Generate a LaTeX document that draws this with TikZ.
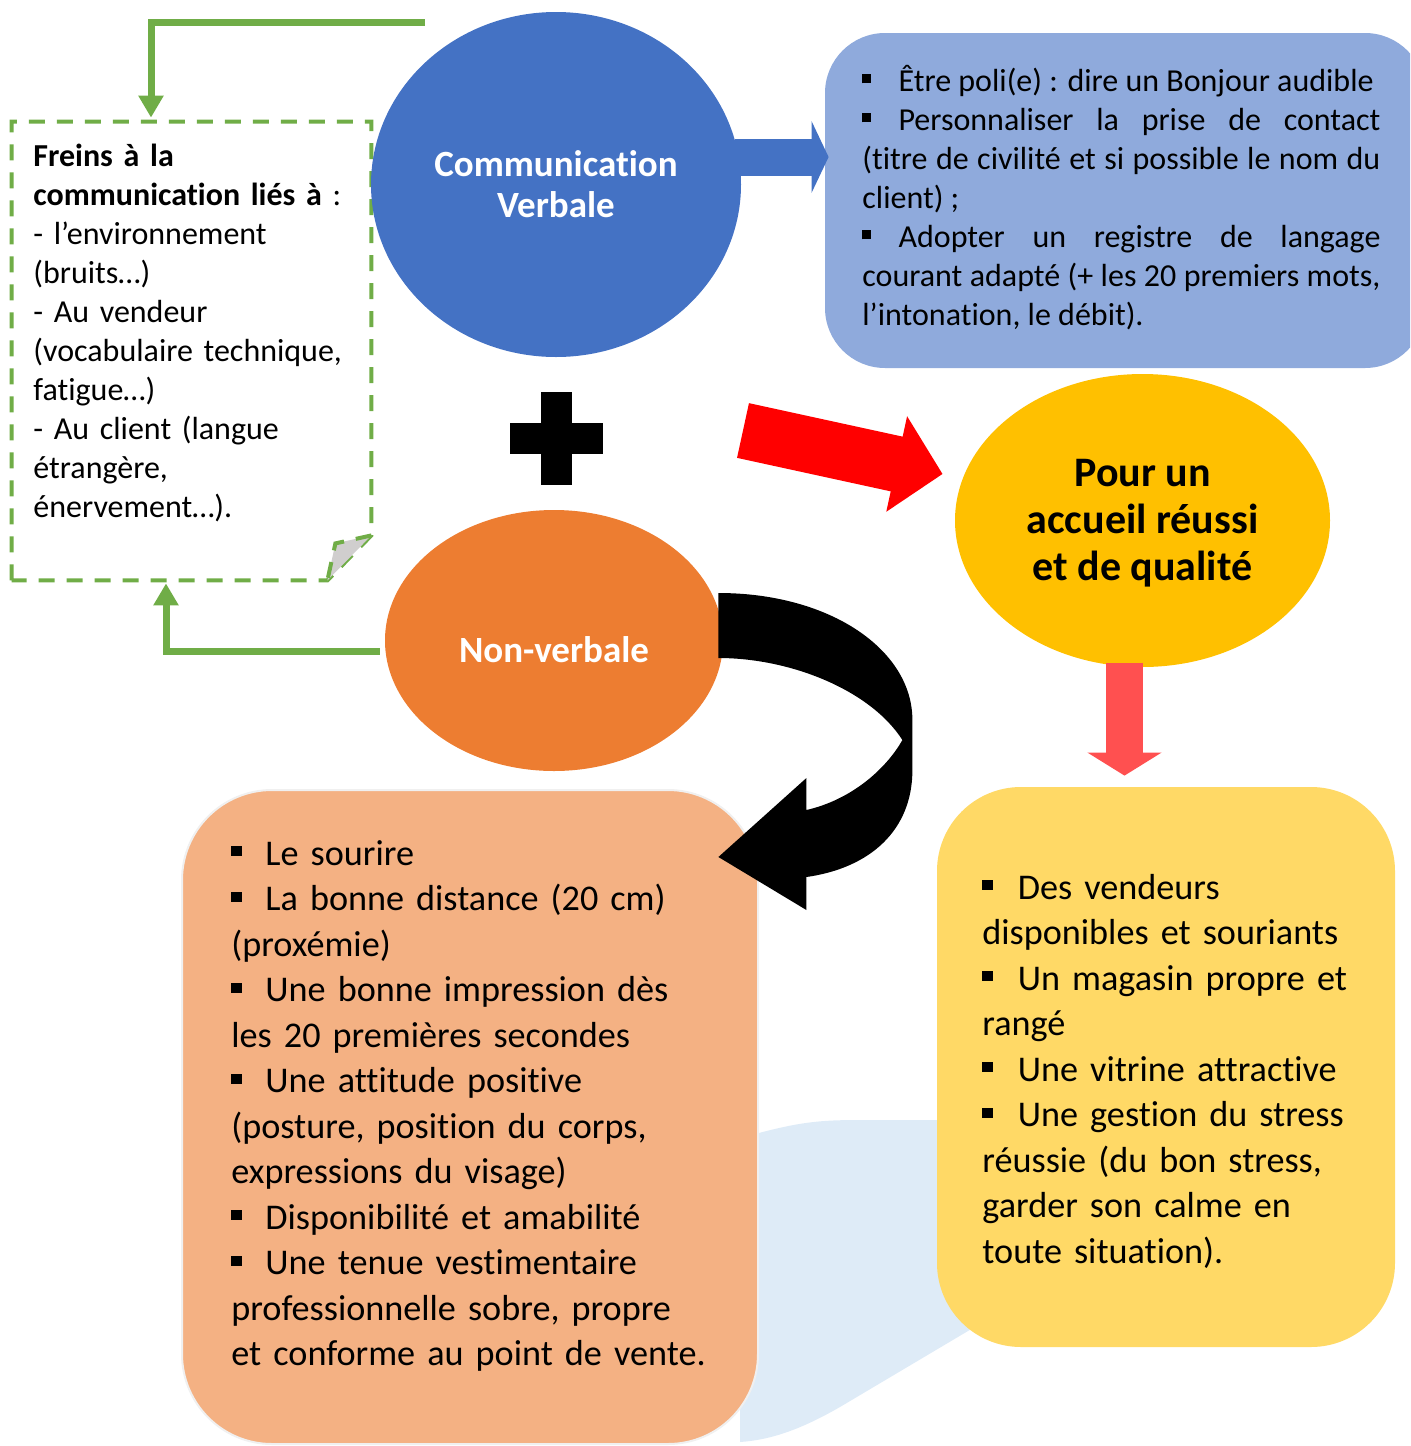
\documentclass[tikz,border=0pt]{standalone}
\usepackage{fontspec}
\setmainfont{Carlito}[Ligatures=NoCommon]
\usetikzlibrary{shapes.geometric,arrows.meta}

\definecolor{verbalblue}{HTML}{4472C4}
\definecolor{boxblue}{HTML}{8FAADC}
\definecolor{nvorange}{HTML}{ED7D31}
\definecolor{boxorange}{HTML}{F4B183}
\definecolor{goldyellow}{HTML}{FFC000}
\definecolor{boxyellow}{HTML}{FFD966}
\definecolor{freingreen}{HTML}{70AD47}
\definecolor{palered}{HTML}{FF5050}
\definecolor{shadeblue}{HTML}{DEEBF7}
\definecolor{foldgray}{HTML}{D0CECE}

\newcommand\puce[1][.66em]{\rule[.24em]{.28em}{.28em}\hspace{#1}}
\newcommand\baisse[1]{\raisebox{-1.5pt}[\height][\depth]{#1}}

\tikzset{
  bubble/.style={ellipse, inner sep=0pt, align=center},
  panel/.style={rectangle, inner sep=0pt},
  bodytext/.style={inner sep=0pt, anchor=base west, align=left},
  greenarrow/.style={draw=freingreen, line width=3.5pt, -{Triangle[width=12pt,length=11pt]}},
  dashgreen/.style={draw=freingreen, line width=2pt, dash pattern=on 8pt off 6pt},
}

\begin{document}
\begin{tikzpicture}[x=0.5pt,y=-0.5pt]
   \useasboundingbox (0,0) rectangle (1410,1446);
   \clip (0,0) rectangle (1410,1446);
   % fond bleu clair
   \fill[shadeblue] (755,1134) .. controls (800,1122) and (820,1120) .. (860,1120) -- (1000,1120) -- (1000,1312) -- (840,1407) .. controls (800,1430) and (770,1440) .. (740,1442) -- (740,1140) -- cycle;
   % cadres
   \node[panel, fill=boxorange, draw=gray!12, line width=1pt, rounded corners=45pt, minimum width=288pt, minimum height=327pt] (nvbox) at (470,1117) {};
   \node[panel, fill=boxyellow, rounded corners=42pt, minimum width=229pt, minimum height=280pt] (qualbox) at (1166,1067) {};
   \node[panel, fill=boxblue, rounded corners=30pt, minimum width=300pt, minimum height=167.5pt] (verbox) at (1125,200.5) {};
   \node[panel, minimum width=179.5pt, minimum height=229pt] (freins) at (191.5,351) {};
   \draw[dashgreen] (freins.south west) -- (freins.north west) -- (freins.north east) -- ([yshift=22.5pt]freins.south east) -- ([xshift=-22pt]freins.south east) -- cycle;
   \filldraw[dashgreen, fill=foldgray] ([yshift=22.5pt]freins.south east) -- ([shift={(-18pt,18.5pt)}]freins.south east) -- ([xshift=-22pt]freins.south east);
   % bulles
   \node[bubble, fill=verbalblue, text=white, minimum width=185pt, minimum height=172.5pt, font=\bfseries\fontsize{18.5}{20.5}\selectfont] (verbal) at (556,184.5) {Communication\\Verbale};
   \node[bubble, fill=nvorange, text=white, minimum width=169pt, minimum height=130.5pt, font=\bfseries\fontsize{18.5}{20.5}\selectfont] (nonverbal) at (554,640.5) {\raisebox{-4.5pt}[\height][0pt]{Non-verbale}};
   \node[bubble, fill=goldyellow, minimum width=187.5pt, minimum height=146.5pt, font=\bfseries\fontsize{21}{23.5}\selectfont] (accueil) at (1142.5,520.5) {\baisse{Pour un}\\\baisse{accueil réussi}\\\baisse{et de qualité}};
   % signe plus
   \coordinate (plus) at (556,438.5);
   \fill ([shift={(-7.75pt,-23.25pt)}]plus) rectangle ([shift={(7.75pt,23.25pt)}]plus);
   \fill ([shift={(-23.25pt,-7.75pt)}]plus) rectangle ([shift={(23.25pt,7.75pt)}]plus);
   % fleches
   \draw[verbalblue, line width=18.5pt, -{Triangle[width=35.5pt,length=8.5pt]}] ([shift={(-3pt,13.75pt)}]verbal.east) -- ([shift={(2pt,21.75pt)}]verbox.west);
   \coordinate (redtail) at (743,430.5);
   \draw[red, line width=28pt, -{Triangle[width=47.5pt,length=23.5pt]}] (redtail) -- ([shift={(-6pt,23.25pt)}]accueil.west);
   \draw[palered, line width=18.5pt, -{Triangle[width=36.5pt,length=11.5pt]}] ([shift={(-9pt,2.25pt)}]accueil.south) -- ([shift={(-20.75pt,5.5pt)}]qualbox.north);
   \coordinate (retour) at (425,22);
   \draw[greenarrow] (retour) -| ([shift={(-20.25pt,2pt)}]freins.north);
   \draw[greenarrow] ([shift={(-2.5pt,-5.5pt)}]nonverbal.west) -| ([shift={(-12.75pt,-1.5pt)}]freins.south);
   \fill[black] ([shift={(-2.5pt,23.75pt)}]nonverbal.east) .. controls +(112,0) and +(0,-70) .. ++(194,127) -- ++(0,50) .. controls +(0,60) and +(64,-9) .. ++(-106,107) -- ++(0,33) -- ++(-88,-53) -- ++(88,-79) -- ++(0,32) .. controls +(44,-10) and +(-17,30) .. ++(96,-70) .. controls +(-32,-50) and +(72,0) .. ++(-184,-82) -- cycle;
   % textes
   \node[bodytext, text width=259pt, align=justify, font=\fontsize{16}{19.5}\selectfont] (vertext) at (862,91) {\puce[.85em]Être poli(e) : dire un Bonjour audible\par
     \puce[.85em]Personnaliser la prise de contact\linebreak (titre de civilité et si possible le nom du\linebreak client) ;\par
     \puce[.85em]Adopter un registre de langage\linebreak courant adapté (+ les 20 premiers mots,\linebreak l’intonation, le débit).};
   \node[bodytext, text width=170pt, font=\fontsize{16}{19.5}\selectfont] (freinstext) at (33,166) {\textbf{Freins à la}\\\textbf{communication liés à} :\\- l’environnement\\(bruits…)\\- Au vendeur\\(vocabulaire technique,\\fatigue…)\\- Au client (langue\\étrangère,\\énervement…).};
   \node[bodytext, text width=265pt, font=\fontsize{18.1}{22.75}\selectfont] (nvtext) at (231,865) {\puce Le sourire\\\puce La bonne distance (20 cm)\\(proxémie)\\\puce Une bonne impression dès\\les 20 premières secondes\\\puce Une attitude positive\\(posture, position du corps,\\expressions du visage)\\\puce Disponibilité et amabilité\\\puce Une tenue vestimentaire\\professionnelle sobre, propre\\et conforme au point de vente.};
   \node[bodytext, text width=200pt, font=\fontsize{18.1}{22.75}\selectfont] (qualtext) at (982,899) {\puce[.7em]Des vendeurs\\disponibles et souriants\\\puce[.7em]Un magasin propre et\\rangé\\\puce[.7em]Une vitrine attractive\\\puce[.7em]Une gestion du stress\\réussie (du bon stress,\\garder son calme en\\toute situation).};
\end{tikzpicture}
\end{document}
